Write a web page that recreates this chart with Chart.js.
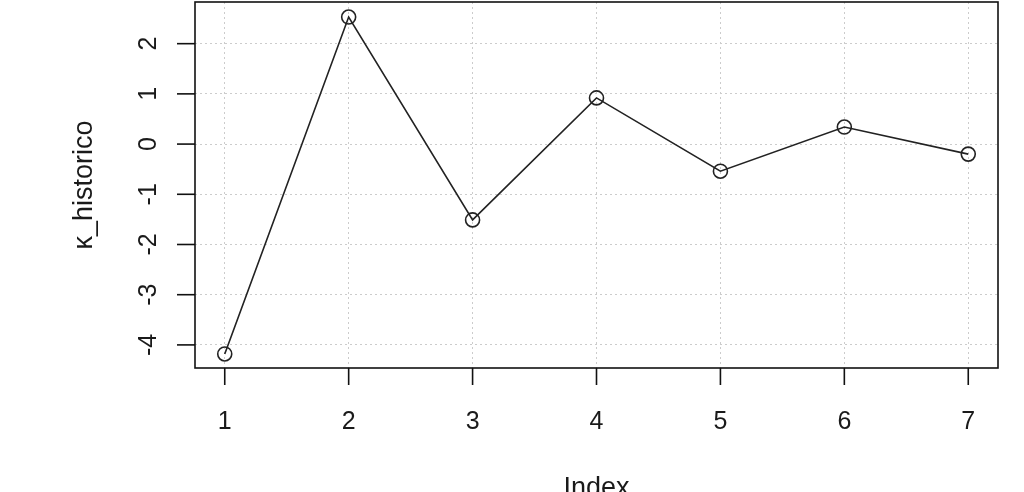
<!DOCTYPE html>
<html>
<head>
<meta charset="utf-8">
<script src="https://cdn.jsdelivr.net/npm/chart.js@4/dist/chart.umd.min.js"></script>
<style>
  html, body { margin: 0; padding: 0; background: #ffffff; }
  #wrap { width: 1024px; height: 492px; }
</style>
</head>
<body>
<div id="wrap"><canvas id="c" width="1024" height="492"></canvas></div>
<script>
// ---- data ----
const indexValues = [1, 2, 3, 4, 5, 6, 7];
const kHistorico  = [-4.18, 2.53, -1.51, 0.92, -0.54, 0.34, -0.20];
const xTickValues = [1, 2, 3, 4, 5, 6, 7];
const yTickValues = [-4, -3, -2, -1, 0, 1, 2];
const xAxisTitle  = 'Index';
const yAxisTitle  = 'κ_historico';

const FONT = '"Liberation Sans", Arial, Helvetica, sans-serif';

const rStylePlot = {
  id: 'rStylePlot',
  afterDraw(chart) {
    const { ctx, chartArea: a, scales: { x, y } } = chart;
    ctx.save();
    ctx.strokeStyle = '#111';
    ctx.lineWidth = 1.6;
    ctx.strokeRect(a.left, a.top, a.right - a.left, a.bottom - a.top);

    ctx.fillStyle = '#1a1a1a';
    ctx.font = '25px ' + FONT;

    // x axis ticks + labels
    ctx.textAlign = 'center';
    ctx.textBaseline = 'alphabetic';
    xTickValues.forEach(v => {
      const px = x.getPixelForValue(v);
      ctx.beginPath();
      ctx.moveTo(px, a.bottom);
      ctx.lineTo(px, a.bottom + 17);
      ctx.stroke();
      ctx.fillText(String(v), px, a.bottom + 61);
    });

    // y axis ticks + rotated labels
    yTickValues.forEach(v => {
      const py = y.getPixelForValue(v);
      ctx.beginPath();
      ctx.moveTo(a.left, py);
      ctx.lineTo(a.left - 18, py);
      ctx.stroke();
      ctx.save();
      ctx.translate(a.left - 39, py);
      ctx.rotate(-Math.PI / 2);
      ctx.fillText(String(v), 0, 0);
      ctx.restore();
    });

    // axis titles
    ctx.font = '27px ' + FONT;
    ctx.fillText(xAxisTitle, (a.left + a.right) / 2, a.bottom + 128);
    ctx.save();
    ctx.translate(a.left - 103, (a.top + a.bottom) / 2);
    ctx.rotate(-Math.PI / 2);
    ctx.fillText(yAxisTitle, 0, 0);
    ctx.restore();
    ctx.restore();
  }
};

new Chart(document.getElementById('c'), {
  type: 'line',
  data: {
    datasets: [{
      data: indexValues.map((v, i) => ({ x: v, y: kHistorico[i] })),
      borderColor: '#222222',
      borderWidth: 1.6,
      backgroundColor: 'rgba(0,0,0,0)',
      pointRadius: 7,
      pointBorderWidth: 1.6,
      pointBorderColor: '#222222',
      pointBackgroundColor: 'rgba(0,0,0,0)',
      tension: 0,
      clip: false
    }]
  },
  options: {
    responsive: false,
    animation: false,
    layout: { autoPadding: false, padding: { left: 195, right: 26, top: 2, bottom: 124 } },
    plugins: { legend: { display: false }, tooltip: { enabled: false } },
    scales: {
      x: {
        type: 'linear',
        min: 0.76, max: 7.24,
        afterBuildTicks: s => { s.ticks = xTickValues.map(v => ({ value: v })); },
        ticks: { display: false },
        grid: { color: '#cccccc', lineWidth: 1, drawTicks: false },
        border: { display: false, dash: [2, 3] }
      },
      y: {
        type: 'linear',
        min: -4.46, max: 2.83,
        afterBuildTicks: s => { s.ticks = yTickValues.map(v => ({ value: v })); },
        ticks: { display: false },
        grid: { color: '#cccccc', lineWidth: 1, drawTicks: false },
        border: { display: false, dash: [2, 3] }
      }
    }
  },
  plugins: [rStylePlot]
});
</script>
</body>
</html>
